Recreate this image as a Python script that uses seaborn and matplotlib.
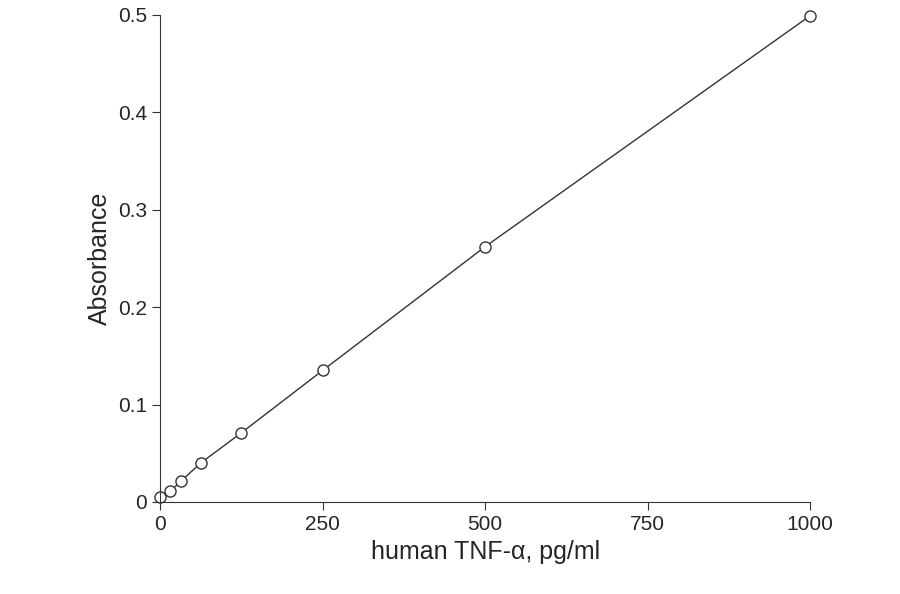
import matplotlib
matplotlib.use("Agg")
import matplotlib.pyplot as plt
import seaborn as sns
import pandas as pd

conc = [0, 15.6, 31.25, 62.5, 125, 250, 500, 1000]
absorbance = [0.005, 0.011, 0.021, 0.040, 0.071, 0.135, 0.262, 0.499]
x_ticks = [0, 250, 500, 750, 1000]
y_ticks = [0, 0.1, 0.2, 0.3, 0.4, 0.5]
y_labels = ["0", "0.1", "0.2", "0.3", "0.4", "0.5"]

df = pd.DataFrame({"conc": conc, "abs": absorbance})

sns.set_style("ticks")
plt.rcParams['font.family'] = ['Liberation Sans', 'DejaVu Sans']

fig, ax = plt.subplots(figsize=(9, 5.94), dpi=100)
fig.subplots_adjust(left=0.178, right=0.9, top=0.975, bottom=0.155)

sns.lineplot(data=df, x="conc", y="abs", ax=ax, color="#333333", linewidth=1, marker="o",
             markersize=8, markerfacecolor="white", markeredgecolor="#333333", markeredgewidth=1)

ax.set_xlim(0, 1000)
ax.set_ylim(0, 0.5)
ax.set_xticks(x_ticks)
ax.set_yticks(y_ticks)
ax.set_yticklabels(y_labels)
ax.tick_params(labelsize=15, direction="out", length=6, color="#333333")
ax.set_xlabel("human TNF-α, pg/ml", fontsize=18)
ax.set_ylabel("Absorbance", fontsize=18)
for s in ["left", "bottom"]:
    ax.spines[s].set_color("#333333")
sns.despine(ax=ax)
for p in ax.lines:
    p.set_clip_on(False)

fig.savefig("out.png")
